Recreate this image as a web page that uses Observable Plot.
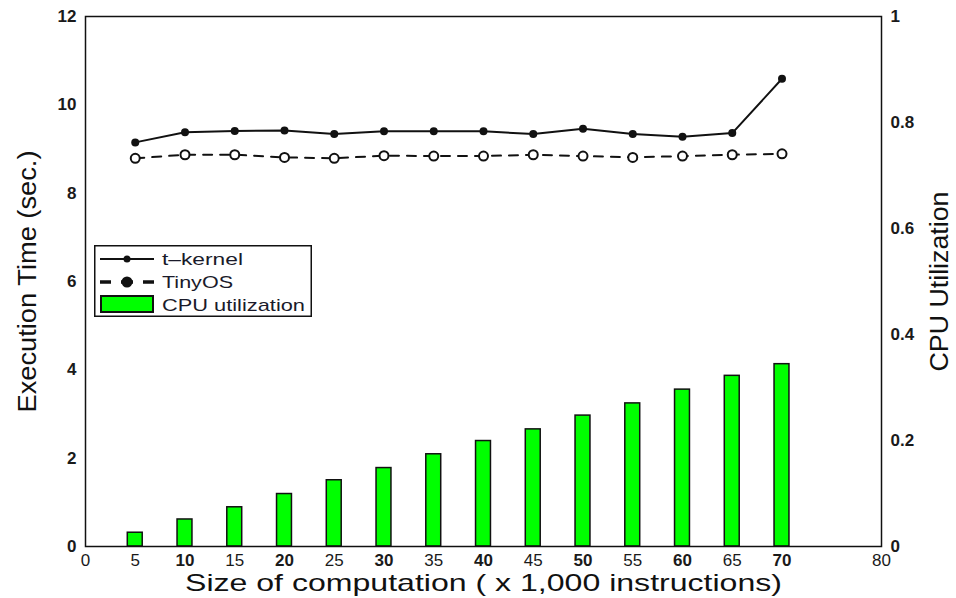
<!DOCTYPE html>
<html>
<head>
<meta charset="utf-8">
<script src="https://cdn.jsdelivr.net/npm/d3@7"></script>
<script src="https://cdn.jsdelivr.net/npm/@observablehq/plot@0.6"></script>
<style>
  html, body { margin: 0; padding: 0; background: #fff; }
  #wrap { position: relative; width: 956px; height: 598px; font-family: "Liberation Sans", Arial, sans-serif; }
  #legend { position: absolute; left: 94px; top: 245px; }
</style>
</head>
<body>
<div id="wrap"></div>
<script>
// ---- data ----
const sizes   = [5, 10, 15, 20, 25, 30, 35, 40, 45, 50, 55, 60, 65, 70];
const tkernel = [9.15, 9.38, 9.41, 9.42, 9.34, 9.40, 9.40, 9.40, 9.34, 9.46, 9.34, 9.28, 9.36, 10.59];
const tinyos  = [8.79, 8.87, 8.87, 8.81, 8.79, 8.85, 8.84, 8.84, 8.87, 8.84, 8.81, 8.84, 8.87, 8.89];
const cpuUtil = [0.026, 0.051, 0.074, 0.099, 0.125, 0.148, 0.174, 0.199, 0.221, 0.247, 0.270, 0.296, 0.322, 0.344];
const xTicks     = [0, 5, 10, 15, 20, 25, 30, 35, 40, 45, 50, 55, 60, 65, 70, 80];
const leftTicks  = [0, 2, 4, 6, 8, 10, 12];
const rightTicks = [0, 0.2, 0.4, 0.6, 0.8, 1];
const xTitle = "Size of computation ( x 1,000 instructions)";
const yTitle = "Execution Time (sec.)";
const y2Title = "CPU Utilization";
const legendLabels = ["t\u2013kernel", "TinyOS", "CPU utilization"];

const Y_MAX = 12;          // left axis max; right axis max is 1
const ratio = Y_MAX / 1;   // right -> left scale factor
const barHalf = 0.75;      // half bar width in x units

const rows = sizes.map((s, i) => ({size: s, tk: tkernel[i], tiny: tinyos[i], cpu: cpuUtil[i]}));

const font = "'Liberation Sans', Arial, Helvetica, sans-serif";

const chart = Plot.plot({
  width: 956,
  height: 598,
  marginLeft: 85,
  marginRight: 75,
  marginTop: 16,
  marginBottom: 52,
  style: {fontFamily: font, fontSize: "17px", color: "#1a1a1a", background: "white"},
  x: {domain: [0, 80]},
  y: {domain: [0, Y_MAX]},
  marks: [
    Plot.rectY(rows, {
      x1: d => d.size - barHalf, x2: d => d.size + barHalf,
      y1: 0, y2: d => d.cpu * ratio,
      fill: "#00ff00", stroke: "#111", strokeWidth: 1.5
    }),
    Plot.line(rows, {x: "size", y: "tk", stroke: "#111", strokeWidth: 2}),
    Plot.dot(rows, {x: "size", y: "tk", r: 4, fill: "#111", stroke: "none"}),
    Plot.line(rows, {x: "size", y: "tiny", stroke: "#111", strokeWidth: 2, strokeDasharray: "9,8"}),
    Plot.dot(rows, {x: "size", y: "tiny", r: 4.5, fill: "white", stroke: "#111", strokeWidth: 2}),
    Plot.frame({stroke: "#111", strokeWidth: 1.5}),
    Plot.axisX({ticks: xTicks, tickSize: 0, tickPadding: 7, label: null, fontSize: 17}),
    Plot.axisY({anchor: "left", ticks: leftTicks, tickSize: 0, tickPadding: 9, label: null, fontSize: 17}),
    Plot.axisY({anchor: "right", ticks: rightTicks.map(v => v * ratio),
      tickFormat: d => String(Math.round(d / ratio * 10) / 10),
      tickSize: 0, tickPadding: 9, label: null, fontSize: 17}),
    Plot.text([xTitle], {frameAnchor: "bottom", dy: 37, lineAnchor: "middle", textAnchor: "middle", fontSize: 24, fill: "#111"}),
    Plot.text([yTitle], {frameAnchor: "left", dx: -58, rotate: -90, lineAnchor: "middle", textAnchor: "middle", fontSize: 26, fill: "#111"}),
    Plot.text([y2Title], {frameAnchor: "right", dx: 58, rotate: -90, lineAnchor: "middle", textAnchor: "middle", fontSize: 26, fill: "#111"})
  ]
});

document.getElementById("wrap").appendChild(chart);

// stretch titles to match reference text widths
const svg = d3.select(chart);
svg.selectAll("text").each(function() {
  const t = d3.select(this).text();
  if (t === xTitle) d3.select(this).attr("textLength", 597).attr("lengthAdjust", "spacingAndGlyphs");
  if (t === yTitle) d3.select(this).attr("textLength", 262).attr("lengthAdjust", "spacingAndGlyphs");
  if (t === y2Title) d3.select(this).attr("textLength", 180).attr("lengthAdjust", "spacingAndGlyphs");
});
// bold labels for multiples of ten on x axis and all y labels (as in the reference)
svg.selectAll("g[aria-label='x-axis tick label'] text").each(function() {
  const v = +d3.select(this).text();
  if (v % 10 === 0 && v !== 0 && v !== 80) d3.select(this).attr("font-weight", "bold");
});
svg.selectAll("g[aria-label='y-axis tick label'] text").attr("font-weight", "bold");

// legend (decoration overlay)
const lg = d3.select("#wrap").append("svg")
  .attr("id", "legend").attr("width", 218).attr("height", 72);
lg.append("rect").attr("x", 0.75).attr("y", 0.75).attr("width", 216.5).attr("height", 70.5)
  .attr("fill", "white").attr("stroke", "#111").attr("stroke-width", 1.5);
// t-kernel
lg.append("line").attr("x1", 6).attr("x2", 60).attr("y1", 14).attr("y2", 14).attr("stroke", "#111").attr("stroke-width", 2);
lg.append("circle").attr("cx", 33).attr("cy", 14).attr("r", 3.5).attr("fill", "#111");
// TinyOS
lg.append("line").attr("x1", 6).attr("x2", 60).attr("y1", 37).attr("y2", 37).attr("stroke", "#111")
  .attr("stroke-width", 3.5).attr("stroke-dasharray", "11,10,12,10,11");
lg.append("circle").attr("cx", 33).attr("cy", 37).attr("r", 5.5).attr("fill", "#111");
// CPU
lg.append("rect").attr("x", 7).attr("y", 51).attr("width", 52).attr("height", 16)
  .attr("fill", "#00ff00").attr("stroke", "#111").attr("stroke-width", 2);
const lw = [81, 71, 143];
legendLabels.forEach((lab, i) => {
  lg.append("text").attr("x", 68).attr("y", 14 + i * 23).attr("dy", "0.36em")
    .attr("font-family", font).attr("font-size", 17).attr("fill", "#1a1a2a")
    .attr("textLength", lw[i]).attr("lengthAdjust", "spacingAndGlyphs").text(lab);
});
</script>
</body>
</html>
